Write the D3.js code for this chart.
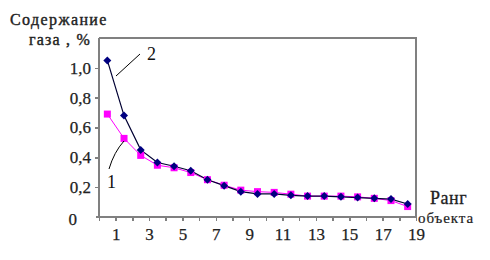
<!DOCTYPE html>
<meta charset="utf-8">
<style>
body { margin: 0; background: #fff; }
svg text { font-family: "Liberation Serif", "Times New Roman", serif; }
.axis path, .axis line { stroke: #808080; stroke-width: 1.5; fill: none; shape-rendering: crispEdges; }
.axis text { font-size: 17px; fill: #222; stroke: #222; stroke-width: 0.25; }
</style>
<body>
<svg width="490" height="260"></svg>
<script src="https://d3js.org/d3.v7.min.js"></script>
<script>

// rank of object, 1..19
var ranks = d3.range(1, 20);
// series 1 (magenta squares)
var series1 = [0.69, 0.527, 0.413, 0.347, 0.33, 0.298, 0.25, 0.213, 0.18, 0.17, 0.165, 0.153, 0.14, 0.14, 0.14, 0.135, 0.125, 0.11, 0.07];
// series 2 (navy diamonds)
var series2 = [1.05, 0.68, 0.45, 0.365, 0.34, 0.31, 0.25, 0.21, 0.17, 0.155, 0.155, 0.145, 0.14, 0.14, 0.135, 0.13, 0.125, 0.12, 0.087];
var yTicks = [0, 0.2, 0.4, 0.6, 0.8, 1.0];
var xTicks = [1, 3, 5, 7, 9, 11, 13, 15, 17, 19];

var svg = d3.select("svg");
var m = {left: 99, right: 416, top: 38, bottom: 217};

var x = d3.scaleLinear().domain([0, 19]).range([m.left, m.right]);
var y = d3.scaleLinear().domain([0, 1.2]).range([m.bottom, m.top]);

// frame (top and right)
svg.append("path")
    .attr("d", "M" + m.left + "," + m.top + "H" + m.right + "V" + m.bottom)
    .attr("fill", "none")
    .attr("stroke", "#808080")
    .attr("stroke-width", 1.5)
    .attr("shape-rendering", "crispEdges");

// y axis
var ya = svg.append("g")
    .attr("class", "axis")
    .attr("transform", "translate(" + m.left + ",0)")
    .call(d3.axisLeft(y).tickValues(yTicks).tickSize(4).tickPadding(4)
        .tickFormat(function(d) { return d === 0 ? "0" : d3.format(".1f")(d).replace(".", ","); }));
ya.attr("font-family", null);
ya.select(".domain").attr("d", "M0," + m.top + "V" + (m.bottom + 1));
ya.selectAll(".tick").filter(function(d) { return d === 0; }).select("line").remove();
ya.selectAll(".tick").filter(function(d) { return d === 0; }).select("text").attr("x", -22).attr("dy", "0.45em");

// x axis
var xa = svg.append("g")
    .attr("class", "axis")
    .attr("transform", "translate(0," + m.bottom + ")")
    .call(d3.axisBottom(x).tickValues(d3.range(0, 20)).tickSize(4).tickPadding(7)
        .tickFormat(function(d) { return xTicks.indexOf(d) >= 0 ? d : ""; }));
xa.attr("font-family", null);
xa.select(".domain").attr("d", "M" + (m.left - 3) + ",0H" + m.right);

var line = d3.line()
    .x(function(d, i) { return x(i + 0.5); })
    .y(function(d) { return y(d); });

svg.append("path").datum(series1)
    .attr("fill", "none").attr("stroke", "#ff00ff").attr("stroke-width", 1)
    .attr("d", line);
svg.append("path").datum(series2)
    .attr("fill", "none").attr("stroke", "#000033").attr("stroke-width", 1.2)
    .attr("d", line);

svg.selectAll(".sq").data(series1).enter().append("rect")
    .attr("x", function(d, i) { return x(i + 0.5) - 3.5; })
    .attr("y", function(d) { return y(d) - 3.5; })
    .attr("width", 7).attr("height", 7)
    .attr("fill", "#ff00ff");

svg.selectAll(".dm").data(series2).enter().append("path")
    .attr("transform", function(d, i) { return "translate(" + x(i + 0.5) + "," + y(d) + ")"; })
    .attr("d", "M0,-4L4,0L0,4L-4,0Z")
    .attr("fill", "#000080");

// titles
svg.append("text").attr("x", 10).attr("y", 25)
    .attr("font-size", 16).attr("fill", "#222").attr("stroke", "#222").attr("stroke-width", 0.4)
    .attr("letter-spacing", 1.4).text("Содержание");
svg.append("text").attr("x", 91).attr("y", 45).attr("text-anchor", "end")
    .attr("font-size", 16).attr("fill", "#222").attr("stroke", "#222").attr("stroke-width", 0.4)
    .attr("letter-spacing", 1.2).text("газа , %");
svg.append("text").attr("x", 430).attr("y", 204)
    .attr("font-size", 18).attr("fill", "#222").attr("stroke", "#222").attr("stroke-width", 0.3)
    .attr("letter-spacing", 0.5).text("Ранг");
svg.append("text").attr("x", 418).attr("y", 223)
    .attr("font-size", 15).attr("fill", "#222").attr("stroke", "#222").attr("stroke-width", 0.2)
    .attr("letter-spacing", 0.9).text("объекта");

// series annotations
svg.append("line")
    .attr("x1", 140).attr("y1", 54).attr("x2", 116).attr("y2", 76)
    .attr("stroke", "#000").attr("stroke-width", 1);
svg.append("text").attr("x", 147).attr("y", 60)
    .attr("font-size", 18).attr("fill", "#111").text("2");
svg.append("path")
    .attr("d", "M109,169Q114,152 124,141")
    .attr("fill", "none").attr("stroke", "#000").attr("stroke-width", 1);
svg.append("text").attr("x", 107).attr("y", 188)
    .attr("font-size", 18).attr("fill", "#111").text("1");

</script>
